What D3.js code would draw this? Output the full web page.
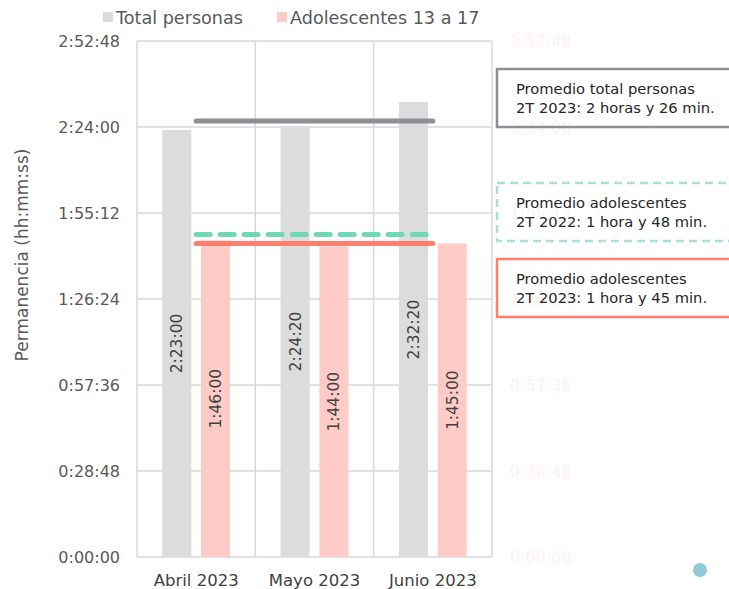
<!DOCTYPE html>
<html>
<head>
<meta charset="utf-8">
<script src="https://cdn.jsdelivr.net/npm/d3@7"></script>
<style>
  body { margin: 0; background: #fff; }
  text { font-family: "Century Gothic", "DejaVu Sans", sans-serif; }
</style>
</head>
<body>
<div id="chart"></div>
<script>
// ****** Data ******
var months = ["Abril 2023", "Mayo 2023", "Junio 2023"];
var series = ["Total personas", "Adolescentes 13 a 17"];
var totalSecs = [8580, 8660, 9140];      // 2:23:00, 2:24:20, 2:32:20
var adolSecs = [6360, 6240, 6300];       // 1:46:00, 1:44:00, 1:45:00
var yTicks = [0, 1728, 3456, 5184, 6912, 8640, 10368];
var averages = [
    { key: "total", secs: 8760, text: ["Promedio total personas", "2T 2023: 2 horas y 26 min."] },
    { key: "adol22", secs: 6480, text: ["Promedio adolescentes", "2T 2022: 1 hora y 48 min."] },
    { key: "adol23", secs: 6300, text: ["Promedio adolescentes", "2T 2023: 1 hora y 45 min."] }
];

// ****** Layout ******
var width = 729, height = 589;
var margin = { top: 41, right: 237, bottom: 32, left: 137 };
var colors = { total: "#dcdcdc", adol: "#ffcbc7" };
var lineColors = { total: "#8e8e96", adol22: "#6fd8b8", adol23: "#ff7f6e" };
var boxColors = { total: "#8e8e96", adol22: "#a9dedd", adol23: "#ff7f6e" };

function fmt(s) {
    var h = Math.floor(s / 3600), m = Math.floor((s % 3600) / 60), sec = s % 60;
    return h + ":" + d3.format("02")(m) + ":" + d3.format("02")(sec);
}

var svg = d3.select("#chart").append("svg")
    .attr("width", width)
    .attr("height", height);

var innerW = width - margin.left - margin.right;
var innerH = height - margin.top - margin.bottom;

var g = svg.append("g")
    .attr("transform", "translate(" + margin.left + "," + margin.top + ")");

var x = d3.scaleBand().domain(months).range([0, innerW]);
var x1 = d3.scaleBand().domain(series).range([0, x.bandwidth()]).paddingInner(0.25).paddingOuter(0.65);
var y = d3.scaleLinear().domain([0, 10368]).range([innerH, 0]);

// ****** Grid ******
g.selectAll(".hgrid").data(yTicks).enter().append("line")
    .attr("x1", 0).attr("x2", innerW)
    .attr("y1", function(d) { return y(d); })
    .attr("y2", function(d) { return y(d); })
    .attr("stroke", "#d9d9d9").attr("stroke-width", 1.5);

var vlines = [0].concat(months.map(function(m) { return x(m) + x.bandwidth(); }));
g.selectAll(".vgrid").data(vlines).enter().append("line")
    .attr("x1", function(d) { return d; }).attr("x2", function(d) { return d; })
    .attr("y1", 0).attr("y2", innerH)
    .attr("stroke", "#d9d9d9").attr("stroke-width", 1.5);

// ****** Axes labels ******
g.selectAll(".ytick").data(yTicks).enter().append("text")
    .attr("x", -17)
    .attr("y", function(d) { return y(d); })
    .attr("dy", "0.35em")
    .attr("text-anchor", "end")
    .attr("font-size", 16)
    .attr("fill", "#595959")
    .text(fmt);

// ghost right axis
g.selectAll(".ytick2").data(yTicks).enter().append("text")
    .attr("x", innerW + 18)
    .attr("y", function(d) { return y(d); })
    .attr("dy", "0.35em")
    .attr("font-size", 16)
    .attr("fill", "#fdf1f2")
    .text(fmt);

svg.append("text")
    .attr("transform", "translate(28,255) rotate(-90)")
    .attr("text-anchor", "middle")
    .attr("font-size", 17)
    .attr("fill", "#595959")
    .text("Permanencia (hh:mm:ss)");

g.selectAll(".xlab").data(months).enter().append("text")
    .attr("x", function(d) { return x(d) + x.bandwidth() / 2; })
    .attr("y", innerH + 29)
    .attr("text-anchor", "middle")
    .attr("font-size", 16.5)
    .attr("fill", "#404040")
    .text(function(d) { return d; });

// ****** Bars ******
var rows = months.map(function(m, i) {
    return [
        { month: m, s: series[0], v: totalSecs[i], c: colors.total },
        { month: m, s: series[1], v: adolSecs[i], c: colors.adol }
    ];
});
var flat = d3.merge(rows);

g.selectAll(".bar").data(flat).enter().append("rect")
    .attr("x", function(d) { return x(d.month) + x1(d.s); })
    .attr("width", x1.bandwidth())
    .attr("y", function(d) { return y(d.v); })
    .attr("height", function(d) { return innerH - y(d.v); })
    .attr("fill", function(d) { return d.c; });

g.selectAll(".blab").data(flat).enter().append("text")
    .attr("transform", function(d) {
        var cx = x(d.month) + x1(d.s) + x1.bandwidth() / 2;
        var cy = (y(d.v) + innerH) / 2;
        return "translate(" + cx + "," + cy + ") rotate(-90)";
    })
    .attr("text-anchor", "middle")
    .attr("dy", "0.35em")
    .attr("font-size", 15.5)
    .attr("fill", "#404040")
    .text(function(d) { return fmt(d.v); });

// ****** Average lines ******
var xs = x(months[0]) + x.bandwidth() / 2;
var xe = x(months[2]) + x.bandwidth() / 2;
g.selectAll(".avg").data(averages).enter().append("line")
    .attr("x1", xs).attr("x2", xe)
    .attr("y1", function(d) { return y(d.secs); })
    .attr("y2", function(d) { return y(d.secs); })
    .attr("stroke", function(d) { return lineColors[d.key]; })
    .attr("stroke-width", 5)
    .attr("stroke-linecap", "round")
    .attr("stroke-dasharray", function(d) { return d.key === "adol22" ? "14,10" : null; });

// ****** Annotation boxes ******
var boxTop = [69, 183, 259];
var boxes = svg.selectAll(".box").data(averages).enter().append("g")
    .attr("transform", function(d, i) { return "translate(497," + boxTop[i] + ")"; });

boxes.append("rect")
    .attr("width", 240).attr("height", 58)
    .attr("fill", "none")
    .attr("stroke", function(d) { return boxColors[d.key]; })
    .attr("stroke-width", 2.5)
    .attr("stroke-dasharray", function(d) { return d.key === "adol22" ? "8,5" : null; });

boxes.selectAll("text").data(function(d) { return d.text; }).enter().append("text")
    .attr("x", 19)
    .attr("y", function(d, i) { return 25 + i * 18.5; })
    .attr("font-size", 14.7)
    .attr("fill", "#262626")
    .text(function(d) { return d; });

// ****** Legend ******
var legend = svg.selectAll(".leg").data(series).enter().append("g")
    .attr("transform", function(d, i) { return "translate(" + (i === 0 ? 103 : 277) + ",12)"; });
legend.append("rect").attr("width", 10).attr("height", 10)
    .attr("fill", function(d, i) { return i === 0 ? colors.total : colors.adol; });
legend.append("text").attr("x", 13).attr("y", 5).attr("dy", "0.38em")
    .attr("font-size", 17.6).attr("fill", "#595959")
    .text(function(d) { return d; });

// ****** Dot ******
svg.append("circle").attr("cx", 700).attr("cy", 570).attr("r", 7).attr("fill", "#8ecad6");
</script>
</body>
</html>
